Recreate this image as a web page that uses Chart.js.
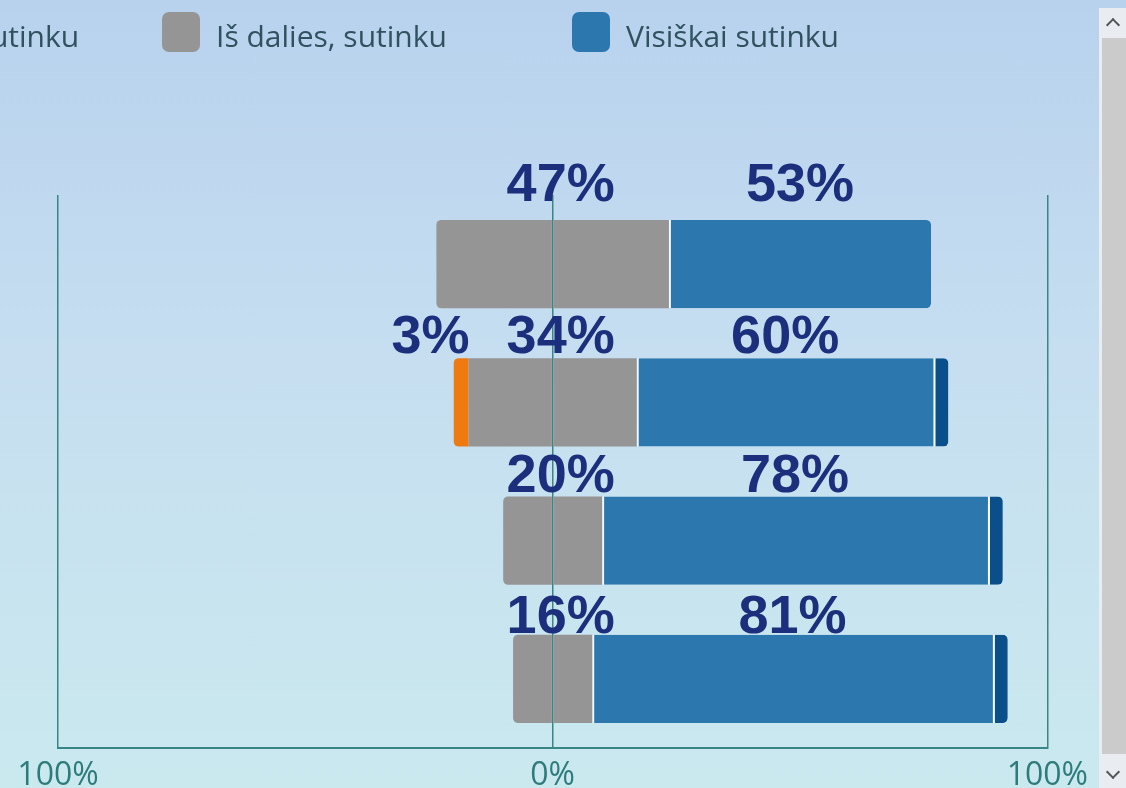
<!DOCTYPE html>
<html>
<head>
<meta charset="utf-8">
<script src="https://cdn.jsdelivr.net/npm/chart.js@4.4.1/dist/chart.umd.min.js"></script>
<style>
  html, body { margin: 0; padding: 0; width: 1126px; height: 788px; overflow: hidden; }
  body {
    position: relative;
    background: linear-gradient(180deg, #b8d2ee 0%, #c6def0 45%, #cae9ef 100%);
    font-family: "Open Sans", "Noto Sans", sans-serif;
  }
  #wrap { position: absolute; left: 0; top: 0; width: 1100px; height: 805px; }
  #legend { position: absolute; top: 12px; left: 0; display: flex; white-space: nowrap; }
  .item { display: flex; align-items: center; width: 410px; height: 40px; }
  .item:first-child { width: 403px; }
  .box { width: 38px; height: 40px; border-radius: 7px; margin-right: 16px; flex: none; }
  .txt { font-size: 30px; color: #30525f; position: relative; top: 3px; }
  #sb { position: absolute; left: 1099px; top: 8px; width: 27px; height: 780px; background: #e9edf1; }
  #sb .thumb { position: absolute; left: 3px; right: 0; top: 30px; height: 716px; background: #cbcbcb; }
  #sb .arr { position: absolute; left: 9px; width: 8px; height: 8px; border-left: 2px solid #555; border-top: 2px solid #555; }
</style>
</head>
<body>
<div id="wrap"><canvas id="myChart"></canvas></div>
<div id="legend"></div>
<div id="sb">
  <div class="arr" style="top:12px; transform: rotate(45deg);"></div>
  <div class="thumb"></div>
  <div class="arr" style="top:759px; transform: rotate(225deg);"></div>
</div>
<script>
// survey rows (category names are not visible in the picture)
var categories = ['1', '2', '3', '4'];

// answer shares, %
var disagreePart = [null, 3, null, null];   // Iš dalies, nesutinku
var agreePart    = [47, 34, 20, 16];        // Iš dalies, sutinku (centred on 0)
var agreeFull    = [53, 60, 78, 81];        // Visiškai sutinku
var otherAnswer  = [null, 3, 3, 3];         // dark blue end piece, no label

var seriesNames = ['Iš dalies, nesutinku', 'Iš dalies, sutinku', 'Visiškai sutinku', 'Nežinau'];
var axisTicks = [-100, 0, 100];

var colors = {
  orange: '#ef7a10',
  gray: '#959595',
  blue: '#2b77ae',
  dark: '#0a4f89'
};

var leftRound = { topLeft: 5, bottomLeft: 5, topRight: 0, bottomRight: 0 };
var rightRound = { topLeft: 0, bottomLeft: 0, topRight: 5, bottomRight: 5 };

// dataset order matters for stacking: gray half first on both sides of 0
var data = {
  labels: categories,
  datasets: [
    {
      label: seriesNames[1],
      data: agreePart.map(v => -v / 2),
      backgroundColor: colors.gray,
      borderWidth: 0,
      borderSkipped: false,
      borderRadius: ctx => disagreePart[ctx.dataIndex] == null ? leftRound : 0
    },
    {
      label: seriesNames[0],
      data: disagreePart.map(v => v == null ? null : -v),
      backgroundColor: colors.orange,
      borderWidth: 0,
      borderSkipped: false,
      borderRadius: leftRound
    },
    {
      label: seriesNames[1],
      data: agreePart.map(v => v / 2),
      backgroundColor: colors.gray,
      borderWidth: 0,
      borderSkipped: false,
      borderRadius: 0
    },
    {
      label: seriesNames[2],
      data: agreeFull,
      backgroundColor: colors.blue,
      borderColor: 'rgba(255,255,255,0.85)',
      borderWidth: { left: 2, right: 0, top: 0, bottom: 0 },
      borderSkipped: false,
      borderRadius: ctx => otherAnswer[ctx.dataIndex] == null ? rightRound : 0
    },
    {
      label: seriesNames[3],
      data: otherAnswer,
      backgroundColor: colors.dark,
      borderColor: 'rgba(255,255,255,0.85)',
      borderWidth: { left: 2, right: 0, top: 0, bottom: 0 },
      borderSkipped: false,
      borderRadius: rightRound
    }
  ]
};

// percent labels above the segments
const valueLabels = {
  id: 'valueLabels',
  afterDatasetsDraw(chart, args, opts) {
    const ctx = chart.ctx;
    ctx.save();
    ctx.font = 'bold 54px Arial, "Liberation Sans", sans-serif';
    ctx.fillStyle = '#1b2f7d';
    ctx.textBaseline = 'alphabetic';
    const m = i => chart.getDatasetMeta(i).data;
    categories.forEach((c, i) => {
      const lift = opts.lift[i];
      const bar = m(2)[i];
      const top = bar.y - bar.height / 2 - lift;

      if (disagreePart[i] != null) {
        const el = m(1)[i];
        ctx.textAlign = 'right';
        ctx.fillText(disagreePart[i] + '%', el.base + 1, top);
      }
      ctx.textAlign = 'center';
      const gx = (m(0)[i].x + m(2)[i].x) / 2;
      ctx.fillText(agreePart[i] + '%', gx + opts.grayShift, top);

      const b = m(3)[i];
      ctx.fillText(agreeFull[i] + '%', (b.x + b.base) / 2, top);
    });
    ctx.restore();
  }
};

const chart = new Chart(document.getElementById('myChart'), {
  type: 'bar',
  data: data,
  plugins: [valueLabels],
  options: {
    indexAxis: 'y',
    responsive: true,
    maintainAspectRatio: false,
    animation: false,
    layout: { padding: { left: 58, right: 51, top: 195, bottom: 1 } },
    datasets: { bar: { categoryPercentage: 1, barPercentage: 0.64 } },
    scales: {
      x: {
        stacked: true,
        min: -100,
        max: 100,
        z: 1,
        afterBuildTicks: axis => { axis.ticks = axisTicks.map(v => ({ value: v })); },
        ticks: {
          padding: 12,
          color: '#2e7b7b',
          font: { family: '"Open Sans", "Noto Sans", sans-serif', size: 32, lineHeight: 1 },
          callback: v => Math.abs(v) + '%'
        },
        grid: { color: '#3a8585', lineWidth: 1.5, drawTicks: false },
        border: { color: '#3a8585', width: 2 }
      },
      y: {
        stacked: true,
        display: false
      }
    },
    plugins: {
      legend: { display: false },
      tooltip: { enabled: false },
      valueLabels: { lift: [19, 5, 4, 2], grayShift: 8 }
    }
  }
});

// html legend, scrolled so the first entry is cut at the left edge
function buildLegend() {
  const el = document.getElementById('legend');
  const items = [
    [seriesNames[0], colors.orange],
    [seriesNames[1], colors.gray],
    [seriesNames[2], colors.blue]
  ];
  items.forEach(function (it) {
    const d = document.createElement('div');
    d.className = 'item';
    d.innerHTML = '<span class="box" style="background:' + it[1] + '"></span><span class="txt">' + it[0] + '</span>';
    el.appendChild(d);
  });
  // second swatch sits at x = 162
  el.style.left = (162 - el.children[1].offsetLeft) + 'px';
}
buildLegend();
</script>
</body>
</html>
